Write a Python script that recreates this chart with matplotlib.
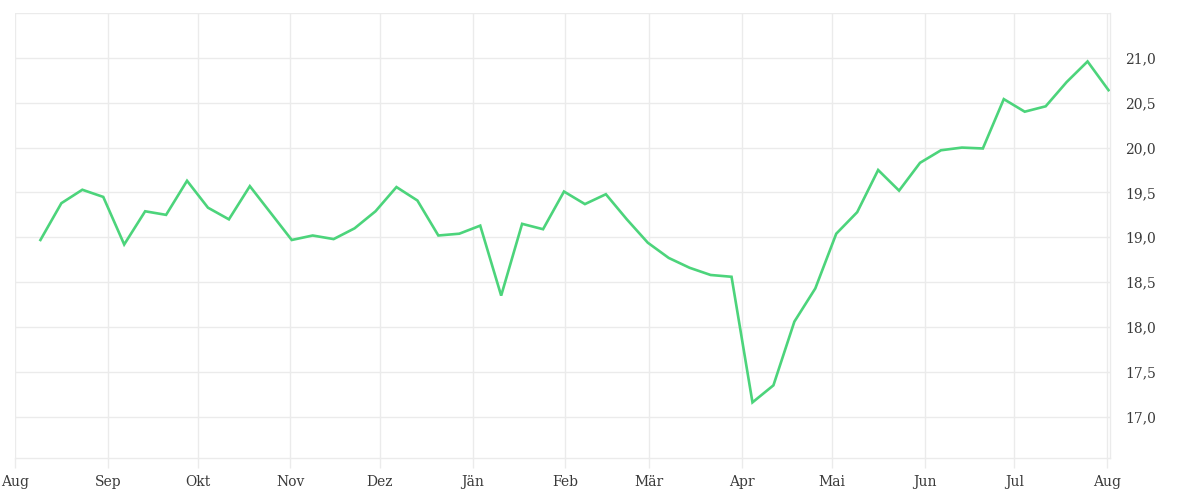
import datetime

import matplotlib
matplotlib.use("Agg")
import matplotlib.pyplot as plt

# weekly values, Aug 2022 - Aug 2023
start_date = datetime.datetime(2022, 8, 9, 12)
values = [
    18.97, 19.38, 19.53, 19.45, 18.92, 19.29, 19.25, 19.63, 19.33, 19.20,
    19.57, 19.27, 18.97, 19.02, 18.98, 19.10, 19.29, 19.56, 19.41, 19.02,
    19.04, 19.13, 18.35, 19.15, 19.09, 19.51, 19.37, 19.48, 19.20, 18.94,
    18.77, 18.66, 18.58, 18.56, 17.16, 17.35, 18.06, 18.43, 19.04, 19.28,
    19.75, 19.52, 19.83, 19.97, 20.00, 19.99, 20.54, 20.40, 20.46, 20.73,
    20.96, 20.64,
]
dates = [start_date + datetime.timedelta(days=7 * i) for i in range(len(values))]

month_starts = [datetime.date(2022, 8, 1)] + \
    [datetime.date(2022 + (m > 12), (m - 1) % 12 + 1, 1) for m in range(9, 21)]
month_labels = ["Aug", "Sep", "Okt", "Nov", "Dez", "Jän", "Feb", "Mär",
                "Apr", "Mai", "Jun", "Jul", "Aug"]

y_ticks = [17.0, 17.5, 18.0, 18.5, 19.0, 19.5, 20.0, 20.5, 21.0]
y_labels = [f"{v:.1f}".replace(".", ",") for v in y_ticks]

grid_color = "#ebebeb"
text_color = "#3a3a3a"

fig = plt.figure(figsize=(12, 5), dpi=100)
ax = fig.add_axes([0.0125, 0.084, 0.9125, 0.89])

ax.plot(dates, values, color="#4cd47b", linewidth=1.9, solid_joinstyle="miter", zorder=3)

ax.set_xlim(datetime.date(2022, 8, 1), datetime.date(2023, 8, 2))
ax.set_ylim(16.54, 21.5)

ax.set_xticks(month_starts)
ax.set_xticklabels(month_labels)
ax.set_yticks(y_ticks + [21.5])
ax.set_yticklabels(y_labels + [""])

ax.yaxis.tick_right()
ax.grid(True, color=grid_color, linewidth=1)
ax.set_axisbelow(True)

for side in ["top", "left"]:
    ax.spines[side].set_visible(False)
for side in ["bottom", "right"]:
    ax.spines[side].set_color(grid_color)
    ax.spines[side].set_linewidth(1)

ax.tick_params(axis="x", length=7, width=1, color=grid_color, pad=5,
               labelsize=10, labelcolor=text_color)
ax.tick_params(axis="y", length=0, pad=11, labelsize=10, labelcolor=text_color)
for lbl in ax.get_xticklabels() + ax.get_yticklabels():
    lbl.set_family("DejaVu Serif")

fig.savefig("out.png", dpi=100)
